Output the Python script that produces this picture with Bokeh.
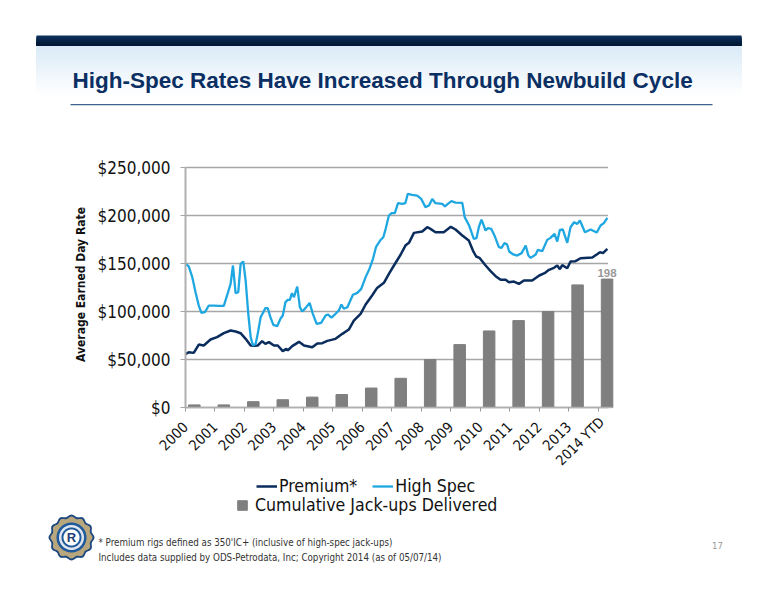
import numpy as np
from bokeh.embed import file_html
from bokeh.resources import INLINE
from bokeh.plotting import figure
from bokeh.models import (BoxAnnotation, ColumnDataSource, FixedTicker, Label, Legend, LegendItem,
                          LinearAxis, NumeralTickFormatter, PolyAnnotation, Range1d)
from bokeh.transform import dodge

# ---- data ----
years = [2000, 2001, 2002, 2003, 2004, 2005, 2006, 2007, 2008, 2009, 2010, 2011, 2012, 2013, 2014]
year_labels = ["2000", "2001", "2002", "2003", "2004", "2005", "2006", "2007", "2008", "2009",
               "2010", "2011", "2012", "2013", "2014 YTD"]
jackups = [4, 4, 9, 12, 16, 20, 30, 45, 74, 97, 118, 134, 148, 189, 198]
rate_ticks = [0, 50000, 100000, 150000, 200000, 250000]

high_x = [2000.00, 2000.11, 2000.23, 2000.34, 2000.45, 2000.54, 2000.66, 2000.79, 2000.96, 2001.13, 2001.30,
          2001.41, 2001.53, 2001.61, 2001.70, 2001.79, 2001.87, 2001.96, 2002.04, 2002.13, 2002.21, 2002.29,
          2002.38, 2002.45, 2002.55, 2002.64, 2002.71, 2002.79, 2002.88, 2002.98, 2003.11, 2003.22, 2003.30,
          2003.39, 2003.47, 2003.54, 2003.61, 2003.68, 2003.79, 2003.88, 2003.96, 2004.07, 2004.21, 2004.32,
          2004.45, 2004.60, 2004.75, 2004.83, 2004.95, 2005.09, 2005.20, 2005.29, 2005.37, 2005.49, 2005.68,
          2005.83, 2005.96, 2006.11, 2006.24, 2006.36, 2006.46, 2006.60, 2006.71, 2006.79, 2006.90, 2006.99,
          2007.10, 2007.21, 2007.35, 2007.46, 2007.54, 2007.69, 2007.86, 2007.995, 2008.14, 2008.26, 2008.37,
          2008.48, 2008.71, 2008.80, 2008.90, 2009.02, 2009.16, 2009.39, 2009.47, 2009.62, 2009.78, 2009.87,
          2009.95, 2010.04, 2010.18, 2010.26, 2010.37, 2010.48, 2010.63, 2010.72, 2010.82, 2010.91, 2010.98,
          2011.12, 2011.25, 2011.40, 2011.54, 2011.63, 2011.71, 2011.88, 2011.95, 2012.10, 2012.27, 2012.38,
          2012.52, 2012.61, 2012.70, 2012.80, 2012.95, 2013.06, 2013.18, 2013.29, 2013.38, 2013.55, 2013.74,
          2013.95, 2014.08, 2014.19, 2014.31]
high_spec = [149600, 146900, 135800, 120100, 106200, 98600, 99300, 106200, 106200, 105900, 105900,
             116700, 128800, 147900, 119100, 120100, 149600, 152100, 132300, 97600, 73300, 64600,
             66300, 76700, 94100, 99300, 103500, 103500, 94100, 86100, 84700, 92400, 95800,
             109700, 112100, 112100, 119100, 114900, 126000, 104500, 100000, 103500, 109000, 97600,
             87100, 88200, 95800, 96900, 93700, 97600, 101000, 107300, 102800, 104500, 117400,
             119400, 123600, 135800, 144400, 154900, 167000, 173900, 177400, 186100, 200000, 202400,
             202400, 212800, 212100, 213000, 222600, 221500, 220800, 217300, 208700, 210400, 217300,
             212800, 212100, 209400, 212100, 214900, 213500, 213200, 198300, 189600, 175700, 176400,
             187800, 195800, 184400, 186800, 186100, 179200, 167000, 166300, 171200, 169800, 162500,
             159400, 158300, 160800, 168700, 158300, 155900, 159400, 164200, 162800, 174600, 176700,
             180900, 172900, 185100, 185400, 171500, 187800, 193000, 191300, 194800, 182600, 185400,
             182300, 189600, 192000, 197600]

prem_x = [2000.00, 2000.11, 2000.28, 2000.45, 2000.62, 2000.85, 2001.07, 2001.30, 2001.53, 2001.70, 2001.87,
          2002.04, 2002.21, 2002.32, 2002.45, 2002.60, 2002.71, 2002.83, 2003.00, 2003.13, 2003.30, 2003.42,
          2003.47, 2003.62, 2003.85, 2004.02, 2004.30, 2004.47, 2004.64, 2004.81, 2005.09, 2005.32, 2005.54,
          2005.71, 2005.94, 2006.11, 2006.33, 2006.50, 2006.73, 2006.90, 2007.07, 2007.30, 2007.46, 2007.58,
          2007.75, 2008.03, 2008.20, 2008.31, 2008.48, 2008.76, 2009.00, 2009.16, 2009.39, 2009.61, 2009.75,
          2009.86, 2009.97, 2010.18, 2010.35, 2010.52, 2010.69, 2010.86, 2010.97, 2011.14, 2011.31, 2011.48,
          2011.76, 2012.00, 2012.18, 2012.33, 2012.50, 2012.61, 2012.70, 2012.78, 2012.95, 2013.06, 2013.23,
          2013.40, 2013.80, 2013.95, 2014.06, 2014.16, 2014.31]
premium = [55600, 57600, 56900, 65600, 64600, 70800, 73300, 77400, 80200, 79200, 77400,
           71500, 64600, 64200, 64600, 69100, 66300, 68100, 64600, 64600, 58700, 61100,
           59400, 63900, 68400, 64600, 62800, 66700, 67000, 69400, 71500, 76700, 81200,
           90600, 97600, 107300, 116700, 124600, 129900, 139200, 147900, 159400, 168700, 171500,
           181900, 183300, 187800, 186100, 182600, 182600, 188200, 185400, 179200, 173900, 163500,
           157300, 155900, 147900, 142000, 136800, 133000, 133000, 130500, 131200, 128800, 132300,
           132300, 137500, 139900, 143400, 145500, 147900, 144100, 148300, 145100, 152100, 152400,
           155500, 156300, 159400, 161800, 160800, 165300]

title_text = "High-Spec Rates Have Increased Through Newbuild Cycle"
y_title = "Average Earned Day Rate"
notes = ["* Premium rigs defined as 350'IC+ (inclusive of high-spec jack-ups)",
         "Includes data supplied by ODS-Petrodata, Inc; Copyright 2014 (as of 05/07/14)"]
page_number = "17"

NAVY, SKY, BAR = "#0a2d5e", "#1fa7e1", "#7f7f7f"
BODY = "DejaVu Sans Condensed"

# The frame fills the whole slide; the ranges are chosen so the plot area sits at px (185..612, 167..407).
W, H = 772, 597
PX_YEAR = 29.48
PX_USD = 240 / 250000
PX_RIG = 240 / 370
x_range = Range1d(2000 - 185 / PX_YEAR, 2000 + (W - 185) / PX_YEAR)
y_range = Range1d(-(H - 407) / PX_USD, 250000 + 167 / PX_USD)

p = figure(frame_width=W, frame_height=H, output_backend="svg", toolbar_location=None,
           x_range=x_range, y_range=y_range, x_axis_location=None, y_axis_location=None,
           min_border=0, outline_line_color=None, background_fill_color="white", border_fill_color="white")
p.extra_y_ranges = {"rigs": Range1d(-(H - 407) / PX_RIG, 370 + 167 / PX_RIG)}
p.grid.visible = False

# the long last label is drawn separately below, so that its end lines up with the others at the tick
overrides = {y: l for y, l in zip(years, year_labels)}
overrides[years[-1]] = ""
xa = LinearAxis(fixed_location=0, ticker=FixedTicker(ticks=years), bounds=(years[0], 2014.48),
                major_label_overrides=overrides,
                major_label_orientation=np.pi / 4, major_label_text_font=BODY,
                major_label_text_font_size="14.5px", major_label_text_color="#111111",
                major_tick_in=0, major_tick_out=4, minor_tick_line_color=None,
                axis_line_color="#b0b0b0", axis_line_width=1.5, major_tick_line_color="#999999",
                major_label_standoff=13)
p.add_layout(xa, "below")

ya = LinearAxis(fixed_location=years[0], ticker=FixedTicker(ticks=rate_ticks),
                bounds=(rate_ticks[0], rate_ticks[-1]), formatter=NumeralTickFormatter(format="$0,0"),
                major_label_text_font=BODY, major_label_text_font_size="17px", major_label_text_color="#111111",
                major_tick_in=0, major_tick_out=5, minor_tick_line_color=None, axis_line_color="#b0b0b0",
                axis_line_width=2, major_tick_line_color="#a6a6a6", major_label_standoff=10)
p.add_layout(ya, "left")

p.segment(x0=[years[0]] * len(rate_ticks), x1=[2014.33] * len(rate_ticks), y0=rate_ticks, y1=rate_ticks,
          line_color="#a6a6a6", line_width=1.3)

bars = ColumnDataSource(dict(year=years, jackups=jackups))
rbar = p.vbar(x=dodge("year", 0.3, range=p.x_range), top="jackups", bottom=0, width=0.39, source=bars,
              y_range_name="rigs", fill_color=BAR, line_color=BAR)
rprem = p.line(prem_x, premium, line_color=NAVY, line_width=2.5)
rhigh = p.line(high_x, high_spec, line_color=SKY, line_width=2.3)

p.add_layout(Label(x=years[-1] + 0.3, y=jackups[-1], y_range_name="rigs", text=str(jackups[-1]), y_offset=2,
                   text_align="center", text_baseline="bottom", text_font="Liberation Sans",
                   text_font_style="bold", text_font_size="11.5px", text_color="#999999"))

def legend(items, x, y, width, standoff):
    lg = Legend(items=items, orientation="horizontal", location=(x, y), border_line_color=None,
                background_fill_alpha=0, label_text_font=BODY, label_text_font_size="17.6px",
                label_text_color="#111111", glyph_width=width, glyph_height=12, spacing=15,
                padding=0, margin=0, label_standoff=standoff)
    p.add_layout(lg, "center")

legend([LegendItem(label="Premium*", renderers=[rprem]), LegendItem(label="High Spec", renderers=[rhigh])],
       256, H - 496, 21, 2)
legend([LegendItem(label="Cumulative Jack-ups Delivered", renderers=[rbar])], 236, H - 515, 12, 7)

def canvas_box(left, right, top, bottom, color):
    p.add_layout(BoxAnnotation(left=left, right=right, top=top, bottom=bottom,
                               left_units="canvas", right_units="canvas", top_units="canvas",
                               bottom_units="canvas", fill_color=color, fill_alpha=1, line_alpha=0,
                               level="underlay"))

# header gradient: every strip runs to the gradient's end, and the next one paints over it
c0, c1 = np.array([218, 235, 247]), np.array([255, 255, 255])
for i in range(0, 48, 2):
    c = c0 + (c1 - c0) * i / 48
    canvas_box(36, 741, 45 + i, 93, "#%02x%02x%02x" % tuple(int(v) for v in c))
d0, d1 = np.array([14, 50, 94]), np.array([0, 22, 50])
for i in range(10):
    c = d0 + (d1 - d0) * i / 9
    canvas_box(36, 741, 35 + i, 45, "#%02x%02x%02x" % tuple(int(v) for v in c))
canvas_box(70, 712, 103.5, 104.8, "#3f6390")

def text(x, y, s, font=BODY, size="10px", color="#333333", style="normal", angle=0, align="left"):
    p.add_layout(Label(x=x, y=y, x_units="canvas", y_units="canvas", text=s, text_font=font,
                       text_font_size=size, text_color=color, text_font_style=style, angle=angle,
                       text_align=align, text_baseline="middle"))

text(72, 80, title_text, font="Liberation Sans", size="22.5px", color="#0b2f63", style="bold")
text(80, 284, y_title, size="12px", color="#111111", style="bold", angle=np.pi / 2, align="center")
text(98, 542, notes[0], size="9.7px")
text(98, 557, notes[1], size="9.7px")
text(717, 545, page_number, size="9.5px", color="#9a9a9a", align="center")
text(601, 419, year_labels[-1], size="14px", color="#111111", angle=np.pi / 4, align="right")

# logo
def poly(radius, color, scallop=0.0):
    t = np.linspace(0, 2 * np.pi, 145)
    r = radius + scallop * np.cos(12 * t)
    p.add_layout(PolyAnnotation(xs=list(71 + r * np.cos(t)), ys=list(537 + r * np.sin(t)),
                                xs_units="canvas", ys_units="canvas", fill_color=color, fill_alpha=1,
                                line_alpha=0, level="underlay"))

poly(22, "#1f4a80", 1)
poly(20, "#b8a67c", 1)
poly(15, "#1f5a9c")
poly(12.5, "#dfe6ee")
poly(10, "#1f5a9c")
poly(8, "#ffffff")
p.add_layout(Label(x=71, y=537, x_units="canvas", y_units="canvas", text="R", text_font="Liberation Sans",
                   text_font_style="bold", text_font_size="13px", text_color="#1c3f78",
                   text_align="center", text_baseline="middle"))

open("out.html", "w").write(file_html(p, INLINE))
